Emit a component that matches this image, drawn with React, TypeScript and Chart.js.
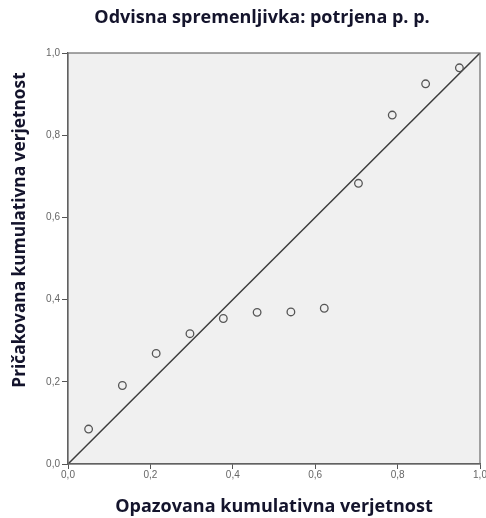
import { useEffect, useRef } from "react";
import { Chart, registerables } from "chart.js";

Chart.register(...registerables);

const chartTitle = "Odvisna spremenljivka: potrjena p. p.";
const xAxisTitle = "Opazovana kumulativna verjetnost";
const yAxisTitle = "Pričakovana kumulativna verjetnost";

const observedProb = [0.05, 0.132, 0.214, 0.296, 0.377, 0.459, 0.541, 0.622, 0.705, 0.787, 0.868, 0.95];
const expectedProb = [0.085, 0.191, 0.269, 0.317, 0.354, 0.369, 0.37, 0.379, 0.683, 0.849, 0.925, 0.964];
const refLineX = [0, 1];
const refLineY = [0, 1];
const tickLabels = ["0,0", "0,2", "0,4", "0,6", "0,8", "1,0"];

const TITLE_FONT = "'Open Sans', Lato, sans-serif";
const TITLE_COLOR = "#14142c";

const framePlugin = {
  id: "framePlugin",
  beforeDraw(chart: any) {
    const { ctx, chartArea } = chart;
    const { left, top, right, bottom } = chartArea;
    ctx.save();
    ctx.fillStyle = "#f0f0f0";
    ctx.fillRect(left, top, right - left, bottom - top);
    ctx.restore();
  },
  afterDraw(chart: any) {
    const { ctx, chartArea } = chart;
    const { left, top, right, bottom } = chartArea;
    ctx.save();
    ctx.strokeStyle = "#6a6a6a";
    ctx.lineWidth = 1.2;
    ctx.strokeRect(left, top, right - left, bottom - top);
    // main title
    ctx.fillStyle = TITLE_COLOR;
    ctx.font = `bold 18px ${TITLE_FONT}`;
    ctx.textAlign = "center";
    ctx.textBaseline = "middle";
    ctx.fillText(chartTitle, 262, 18);
    // y axis title
    ctx.translate(20, 230);
    ctx.rotate(-Math.PI / 2);
    ctx.font = `bold 17.3px ${TITLE_FONT}`;
    ctx.fillText(yAxisTitle, 0, 0);
    ctx.restore();
  },
};

export default function App() {
  const canvasRef = useRef<HTMLCanvasElement | null>(null);

  useEffect(() => {
    if (!canvasRef.current) return;
    const points = observedProb.map((x, i) => ({ x, y: expectedProb[i] }));
    const line = refLineX.map((x, i) => ({ x, y: refLineY[i] }));
    const chart = new Chart(canvasRef.current, {
      type: "scatter",
      data: {
        datasets: [
          {
            type: "line",
            data: line,
            borderColor: "#3c3c3c",
            borderWidth: 1.5,
            pointRadius: 0,
            fill: false,
            order: 2,
          } as any,
          {
            type: "scatter",
            data: points,
            pointStyle: "circle",
            pointRadius: 3.8,
            borderWidth: 1.3,
            borderColor: "#555",
            backgroundColor: "rgba(0,0,0,0)",
            order: 1,
          } as any,
        ],
      },
      options: {
        animation: false,
        responsive: false,
        maintainAspectRatio: false,
        devicePixelRatio: 1,
        layout: { padding: { left: 0, right: 6, top: 53, bottom: 0 } },
        plugins: {
          legend: { display: false },
          title: { display: false },
          tooltip: { enabled: false },
        },
        scales: {
          x: {
            type: "linear",
            min: 0,
            max: 1,
            ticks: {
              stepSize: 0.2,
              padding: 0,
              color: "#666",
              font: { family: "'Liberation Sans', Arial, sans-serif", size: 10 },
              maxRotation: 0,
              callback: (v: any) => tickLabels[Math.round(Number(v) / 0.2)],
            },
            grid: {
              display: true,
              drawOnChartArea: false,
              drawTicks: true,
              tickLength: 5,
              color: "#555",
            },
            border: { display: true, color: "#555", width: 1.2 },
            title: {
              display: true,
              text: xAxisTitle,
              color: TITLE_COLOR,
              font: { family: TITLE_FONT, size: 18, weight: "bold" },
              padding: { top: 0, bottom: 0 },
            },
            afterFit: (scale: any) => {
              scale.height = 54;
              scale.paddingLeft = 0;
              scale.paddingRight = 0;
            },
          },
          y: {
            type: "linear",
            min: 0,
            max: 1,
            ticks: {
              stepSize: 0.2,
              padding: 2,
              color: "#666",
              font: { family: "'Liberation Sans', Arial, sans-serif", size: 10 },
              callback: (v: any) => tickLabels[Math.round(Number(v) / 0.2)],
            },
            grid: {
              display: true,
              drawOnChartArea: false,
              drawTicks: true,
              tickLength: 6,
              color: "#555",
            },
            border: { display: true, color: "#555", width: 1.2 },
            afterFit: (scale: any) => {
              scale.width = 68;
              scale.paddingTop = 0;
              scale.paddingBottom = 0;
            },
          },
        },
      },
      plugins: [framePlugin],
    } as any);
    return () => chart.destroy();
  }, []);

  return (
    <div style={{ position: "absolute", left: 0, top: 0, width: 486, height: 518, background: "#fff" }}>
      <canvas ref={canvasRef} width={486} height={518} style={{ display: "block" }} />
    </div>
  );
}
